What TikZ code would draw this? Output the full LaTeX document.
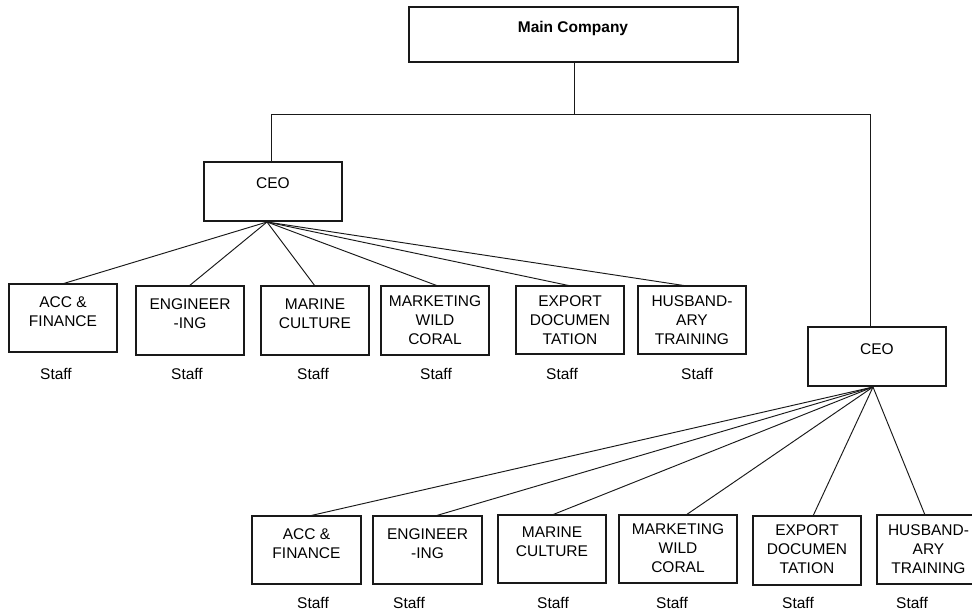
\documentclass[tikz,border=0pt]{standalone}
\usepackage{fontspec}
\setmainfont{Liberation Sans}
\begin{document}
\begin{tikzpicture}[x=1pt,y=-1pt,
  box/.style={draw=black!90, line width=1.1pt, rectangle, inner sep=0pt, outer sep=0pt},
  lbl/.style={inner sep=0pt, align=center, font=\fontsize{15.5}{19}\selectfont, text=black},
  conn/.style={draw=black!90, line width=0.95pt}]
\useasboundingbox (0,0) rectangle (972,614);
\newcommand\orgbox[7]{%
  \node[box, minimum width={#4-#2}, minimum height={#5-#3}] (#1) at ({(#2+#4)/2},{(#3+#5)/2}) {};
  \node[lbl, anchor=north] (#1t) at ({(#2+#4)/2},{#7-5.6}) {#6};}
% top
\node[box, minimum width=329, minimum height=55] (main) at (573.5,34.5) {};
\node[lbl, font=\fontsize{15.5}{19}\selectfont\bfseries] (maint) at (573,28) {Main Company};
\node[box, minimum width=138, minimum height=59] (ceo1) at (273,191.5) {};
\node[lbl] (ceo1t) at (273,183) {CEO};
\node[box, minimum width=138, minimum height=59] (ceo2) at (877,356.5) {};
\node[lbl] (ceo2t) at (877,349) {CEO};
\coordinate (busM) at (574,114);
\coordinate (busL) at (271,114);
\coordinate (busR) at (870,114);
\coordinate (ap1) at (267,222);
\coordinate (ap2) at (873,387);
\draw[conn] (main.south -| busM) -- (busM);
\draw[conn] (ceo1.north -| busL) -- (busL) -- (busR) -- (ceo2.north -| busR);
% row 1
\orgbox{a1}{9}{284}{117}{352}{ACC \&\\FINANCE}{302}
\orgbox{a2}{136}{286}{244}{355}{ENGINEER\\-ING}{304}
\orgbox{a3}{261}{286}{369}{355}{MARINE\\CULTURE}{304}
\orgbox{a4}{381}{286}{489}{355}{MARKETING\\WILD\\CORAL}{301}
\orgbox{a5}{516}{286}{624}{354}{EXPORT\\DOCUMEN\\TATION}{301}
\orgbox{a6}{638}{286}{746}{354}{HUSBAND-\\ARY\\TRAINING}{301}
\node[lbl] (sa1) at (56,374) {Staff};
\node[lbl] (sa2) at (187,374) {Staff};
\node[lbl] (sa3) at (313,374) {Staff};
\node[lbl] (sa4) at (436,374) {Staff};
\node[lbl] (sa5) at (562,374) {Staff};
\node[lbl] (sa6) at (697,374) {Staff};
\draw[conn] (ap1) -- ([xshift=-1pt]a1.north);
\draw[conn] (ap1) -- ([xshift=-1pt]a2.north);
\draw[conn] (ap1) -- (a3.north);
\draw[conn] (ap1) -- ([xshift=3pt]a4.north);
\draw[conn] (ap1) -- ([xshift=1pt]a5.north);
\draw[conn] (ap1) -- ([xshift=-5pt]a6.north);
% row 2
\orgbox{b1}{252}{516}{361}{584}{ACC \&\\FINANCE}{534}
\orgbox{b2}{373}{516}{482}{584}{ENGINEER\\-ING}{534}
\orgbox{b3}{498}{515}{606}{583}{MARINE\\CULTURE}{532}
\orgbox{b4}{619}{515}{737}{583}{MARKETING\\WILD\\CORAL}{529}
\orgbox{b5}{753}{516}{861}{585}{EXPORT\\DOCUMEN\\TATION}{530}
\orgbox{b6}{877}{515}{980}{584}{HUSBAND-\\ARY\\TRAINING}{530}
\node[lbl] (sb1) at (313,603) {Staff};
\node[lbl] (sb2) at (409,603) {Staff};
\node[lbl] (sb3) at (553,603) {Staff};
\node[lbl] (sb4) at (672,603) {Staff};
\node[lbl] (sb5) at (798,603) {Staff};
\node[lbl] (sb6) at (912,603) {Staff};
\draw[conn] (ap2) -- ([xshift=2.5pt]b1.north);
\draw[conn] (ap2) -- ([xshift=7.5pt]b2.north);
\draw[conn] (ap2) -- (b3.north);
\draw[conn] (ap2) -- ([xshift=8pt]b4.north);
\draw[conn] (ap2) -- ([xshift=6pt]b5.north);
\draw[conn] (ap2) -- ([xshift=-3.5pt]b6.north);
\end{tikzpicture}
\end{document}
